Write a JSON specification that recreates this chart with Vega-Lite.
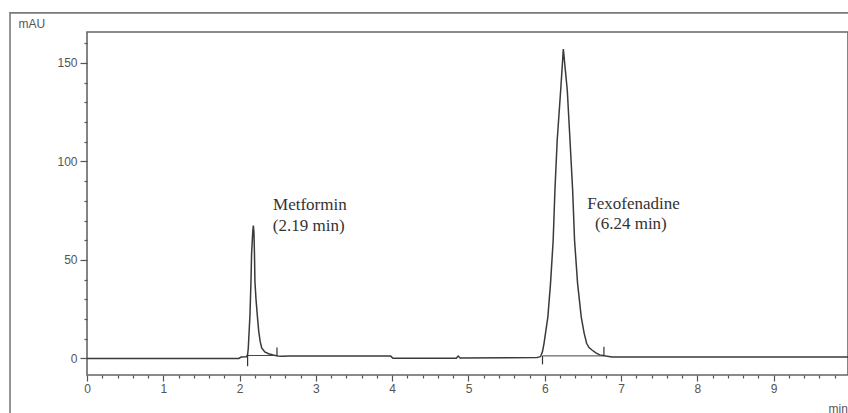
{
  "$schema": "https://vega.github.io/schema/vega-lite/v6.json",
  "autosize": "none",
  "width": 761,
  "height": 343,
  "padding": {"left": 87, "top": 32, "right": 0, "bottom": 38},
  "background": "white",
  "config": {
    "view": {"stroke": "#666666", "strokeWidth": 1.6},
    "axis": {
      "grid": false,
      "domain": false,
      "tickColor": "#555555",
      "tickWidth": 1.2,
      "labelColor": "#555555",
      "labelFont": "Liberation Sans",
      "labelFontSize": 12,
      "labelOverlap": false,
      "labelBound": false,
      "labelFlush": false,
      "titleColor": "#555555",
      "titleFont": "Liberation Sans",
      "titleFontSize": 12,
      "titleFontWeight": "normal"
    }
  },
  "datasets": {
    "signal": [
      {"t": 0, "v": 0}, {"t": 1.99, "v": 0}, {"t": 2.02, "v": 0.7}, {"t": 2.09, "v": 0.9},
      {"t": 2.105, "v": 2}, {"t": 2.114, "v": 5.3}, {"t": 2.136, "v": 22}, {"t": 2.149, "v": 39},
      {"t": 2.157, "v": 53}, {"t": 2.172, "v": 64}, {"t": 2.18, "v": 67.5}, {"t": 2.188, "v": 64},
      {"t": 2.195, "v": 53}, {"t": 2.201, "v": 39}, {"t": 2.215, "v": 30}, {"t": 2.232, "v": 22},
      {"t": 2.25, "v": 14}, {"t": 2.27, "v": 8.5}, {"t": 2.29, "v": 5.3}, {"t": 2.33, "v": 3.3},
      {"t": 2.38, "v": 2.4}, {"t": 2.44, "v": 1.8}, {"t": 2.5, "v": 1.3}, {"t": 2.56, "v": 1.1},
      {"t": 2.65, "v": 1.2}, {"t": 3.98, "v": 1.2}, {"t": 4.01, "v": 0.1}, {"t": 4.84, "v": 0.1},
      {"t": 4.865, "v": 1.2}, {"t": 4.89, "v": 0.2}, {"t": 5.9, "v": 0.5}, {"t": 5.93, "v": 0.8},
      {"t": 5.945, "v": 1.0}, {"t": 5.97, "v": 3.5}, {"t": 5.99, "v": 7.7}, {"t": 6.04, "v": 21},
      {"t": 6.075, "v": 38}, {"t": 6.11, "v": 60}, {"t": 6.133, "v": 85.5}, {"t": 6.163, "v": 111},
      {"t": 6.208, "v": 136}, {"t": 6.243, "v": 157}, {"t": 6.295, "v": 136}, {"t": 6.33, "v": 111},
      {"t": 6.365, "v": 85.5}, {"t": 6.39, "v": 60}, {"t": 6.43, "v": 38}, {"t": 6.478, "v": 21},
      {"t": 6.515, "v": 13}, {"t": 6.548, "v": 7.7}, {"t": 6.58, "v": 5.5}, {"t": 6.618, "v": 4.3},
      {"t": 6.67, "v": 2.8}, {"t": 6.72, "v": 1.8}, {"t": 6.8, "v": 1.2}, {"t": 6.88, "v": 0.8},
      {"t": 6.95, "v": 0.8}, {"t": 9.974, "v": 0.8}
    ],
    "baselines": [
      {"t1": 2.105, "t2": 2.49, "v": 1.5},
      {"t1": 5.97, "t2": 6.775, "v": 1.3}
    ],
    "markers": [
      {"t": 2.105, "v1": 1.8, "v2": -4},
      {"t": 2.49, "v1": 1.3, "v2": 5.5},
      {"t": 5.97, "v1": 1.3, "v2": -3},
      {"t": 6.775, "v1": 1.3, "v2": 6}
    ],
    "labels": [
      {"t": 2.438, "v": 78, "text": "Metformin"},
      {"t": 2.435, "v": 67.3, "text": "(2.19 min)"},
      {"t": 6.557, "v": 78.5, "text": "Fexofenadine"},
      {"t": 6.658, "v": 68, "text": "(6.24 min)"}
    ]
  },
  "layer": [
    {
      "data": {"values": [{}]},
      "mark": {"type": "rect", "fill": null, "fillOpacity": 0, "stroke": "#7a7a7a", "strokeWidth": 1.6, "clip": false},
      "encoding": {
        "x": {"datum": -1.009, "type": "quantitative"},
        "x2": {"datum": 12},
        "y": {"datum": 175.4, "type": "quantitative"},
        "y2": {"datum": -40}
      }
    },
    {
      "data": {"name": "signal"},
      "mark": {"type": "line", "color": "#3a3a3a", "strokeWidth": 1.5},
      "encoding": {
        "x": {
          "field": "t", "type": "quantitative",
          "scale": {"domain": [0, 9.974], "nice": false, "zero": false},
          "axis": {
            "title": "min",
            "titleX": 741, "titleY": 33, "titleAlign": "left", "titleBaseline": "middle",
            "values": [0,0.2,0.4,0.6,0.8,1,1.2,1.4,1.6,1.8,2,2.2,2.4,2.6,2.8,3,3.2,3.4,3.6,3.8,4,4.2,4.4,4.6,4.8,5,5.2,5.4,5.6,5.8,6,6.2,6.4,6.6,6.8,7,7.2,7.4,7.6,7.8,8,8.2,8.4,8.6,8.8,9,9.2,9.4,9.6,9.8],
            "tickCount": 200,
            "labelExpr": "abs(datum.value - round(datum.value)) < 0.01 ? format(datum.value, 'd') : ''",
            "labelOverlap": false,
            "tickSize": {"condition": {"test": "abs(datum.value - round(datum.value)) < 0.01", "value": 6}, "value": 3},
            "labelPadding": 2
          }
        },
        "y": {
          "field": "v", "type": "quantitative",
          "scale": {"domain": [-8.4, 165.7], "nice": false, "zero": false},
          "axis": {
            "title": "mAU",
            "titleAngle": 0, "titleX": -69, "titleY": -9, "titleAlign": "left", "titleBaseline": "middle",
            "values": [0,10,20,30,40,50,60,70,80,90,100,110,120,130,140,150,160],
            "tickCount": 200,
            "labelExpr": "datum.value % 50 === 0 ? format(datum.value, 'd') : ''",
            "labelOverlap": false,
            "tickSize": {"condition": {"test": "datum.value % 50 === 0", "value": 7}, "value": 3},
            "labelPadding": 3
          }
        }
      }
    },
    {
      "data": {"name": "baselines"},
      "mark": {"type": "rule", "color": "#444444", "strokeWidth": 1},
      "encoding": {
        "x": {"field": "t1", "type": "quantitative"},
        "x2": {"field": "t2"},
        "y": {"field": "v", "type": "quantitative"}
      }
    },
    {
      "data": {"name": "markers"},
      "mark": {"type": "rule", "color": "#333333", "strokeWidth": 1.2},
      "encoding": {
        "x": {"field": "t", "type": "quantitative"},
        "y": {"field": "v1", "type": "quantitative"},
        "y2": {"field": "v2"}
      }
    },
    {
      "data": {"name": "labels"},
      "mark": {"type": "text", "align": "left", "baseline": "middle", "font": "Liberation Serif", "fontSize": 17, "color": "#333333"},
      "encoding": {
        "x": {"field": "t", "type": "quantitative"},
        "y": {"field": "v", "type": "quantitative"},
        "text": {"field": "text"}
      }
    }
  ]
}
